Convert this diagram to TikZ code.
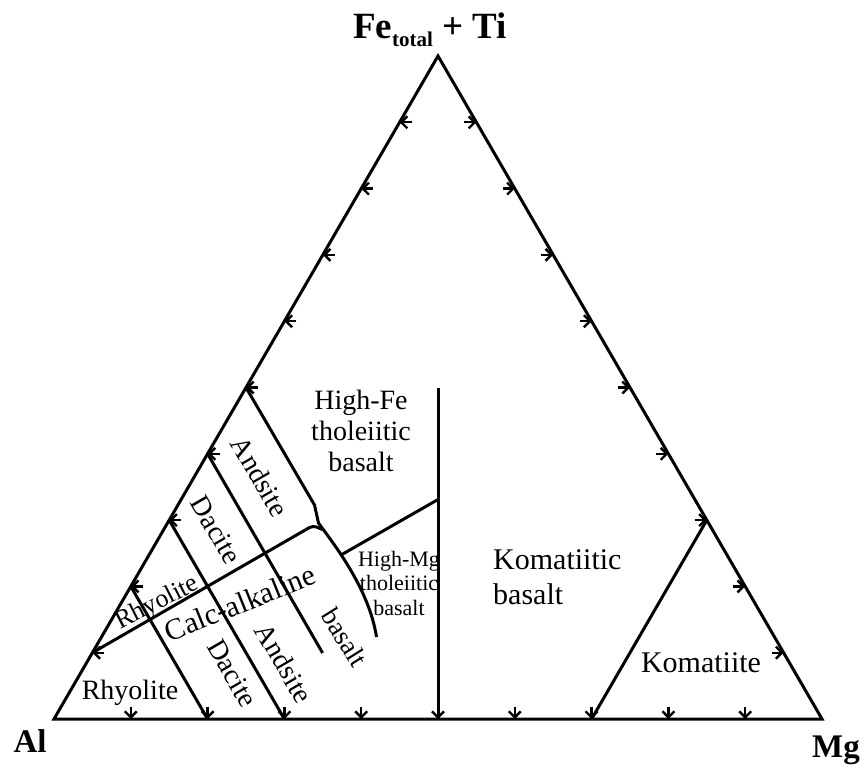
\documentclass[tikz,border=0pt]{standalone}
\usepackage{fontspec}
\setmainfont{Liberation Serif}
\usetikzlibrary{arrows.meta,calc}
\begin{document}
\begin{tikzpicture}[x=1pt,y=-1pt,
  edge/.style={line width=3pt, line join=miter},
  bound/.style={line width=3pt},
  tk/.style={line width=2.4pt,-{Straight Barb[length=6pt,width=12pt]}},
  lbl/.style={inner sep=0pt, font=\fontsize{28}{31}\selectfont},
  big/.style={inner sep=0pt, font=\fontsize{30}{35}\selectfont},
  corner/.style={inner sep=0pt, font=\fontsize{33}{36}\selectfont\bfseries},
]
\useasboundingbox (0,0) rectangle (864,764);
\coordinate (T) at (438,56);
\coordinate (A) at (54,719);
\coordinate (M) at (822,719);
\foreach \k in {1,...,9}{
  \coordinate (l\k) at ($(T)!\k/10!(A)$);
  \coordinate (r\k) at ($(T)!\k/10!(M)$);
  \coordinate (b\k) at ($(A)!\k/10!(M)$);
}
% labels
\node[lbl, align=center] (hfe) at (361,431) {High-Fe\\tholeiitic\\basalt};
\node[big, align=left, anchor=west] (kb) at (493,577.5) {Komatiitic\\basalt};
\node[inner sep=0pt, font=\fontsize{22}{24.5}\selectfont, align=center] (hmg) at (399,583) {High-Mg\\tholeiitic\\basalt};
\node[big] (kom) at (701,663) {Komatiite};
\node[lbl] (rhy1) at (130,693) {Rhyolite};
\node[lbl, rotate=-60] (and1) at (260,476.7) {Andsite};
\node[lbl, rotate=-60] (dac1) at (216,530) {Dacite};
\node[lbl, rotate=-60] (and2) at (284,663) {Andsite};
\node[lbl, rotate=-60] (dac2) at (232.5,673.5) {Dacite};
\node[inner sep=0pt, font=\fontsize{27}{30}\selectfont, rotate=-58] (bas) at (345,637.5) {basalt};
\node[inner sep=0pt, font=\fontsize{26}{30}\selectfont, rotate=27] (rhy2) at (157.5,603.3) {Rhyolite};
\node[big, rotate=22] (calc) at (240,603) {Calc-alkaline};
% corner labels
\node[inner sep=0pt, anchor=base, font=\fontsize{37}{40}\selectfont\bfseries] (fe) at (430,38) {Fe\raisebox{-8pt}{\fontsize{21}{21}\selectfont total} + Ti};
\node[corner, anchor=base] (al) at (30,752) {Al};
\node[corner, anchor=base west] (mg) at (812,757) {Mg};
% triangle
\draw[edge] (T) -- (A) -- (M) -- cycle;
% ticks
\foreach \k in {1,...,9}{
  \draw[tk] ($(l\k)+(12,0)$) -- (l\k);
  \draw[tk] ($(r\k)+(-12,0)$) -- (r\k);
  \draw[tk] ($(b\k)+(0,-12)$) -- (b\k);
}
% field boundaries
\coordinate (vtop) at ($(T)!0.5!(b5)$);
\coordinate (th) at (438,499.5);
\coordinate (j1a) at (314.5,505);
\coordinate (j1b) at (318.5,523);
\coordinate (c1) at (333,543);
\coordinate (c2) at (369,588);
\coordinate (e1) at (376.5,637);
\coordinate (j2) at (341,555);
\coordinate (cc) at (313,525.5);
\coordinate (cj) at (322.5,529.5);
\draw[bound] (vtop) -- (b5);
\draw[bound] (l5) -- (j1a) -- (j1b) .. controls (c1) and (c2) .. (e1);
\draw[bound] (th) -- (j2);
\draw[bound, rounded corners=4pt] (l9) -- (cc) -- (cj);
\draw[bound] (l6) -- ++(115,199.2) coordinate (e2);
\draw[bound] (l7) -- (b3);
\draw[bound] (l8) -- (b2);
\draw[bound] (r7) -- (b7);
\end{tikzpicture}
\end{document}
